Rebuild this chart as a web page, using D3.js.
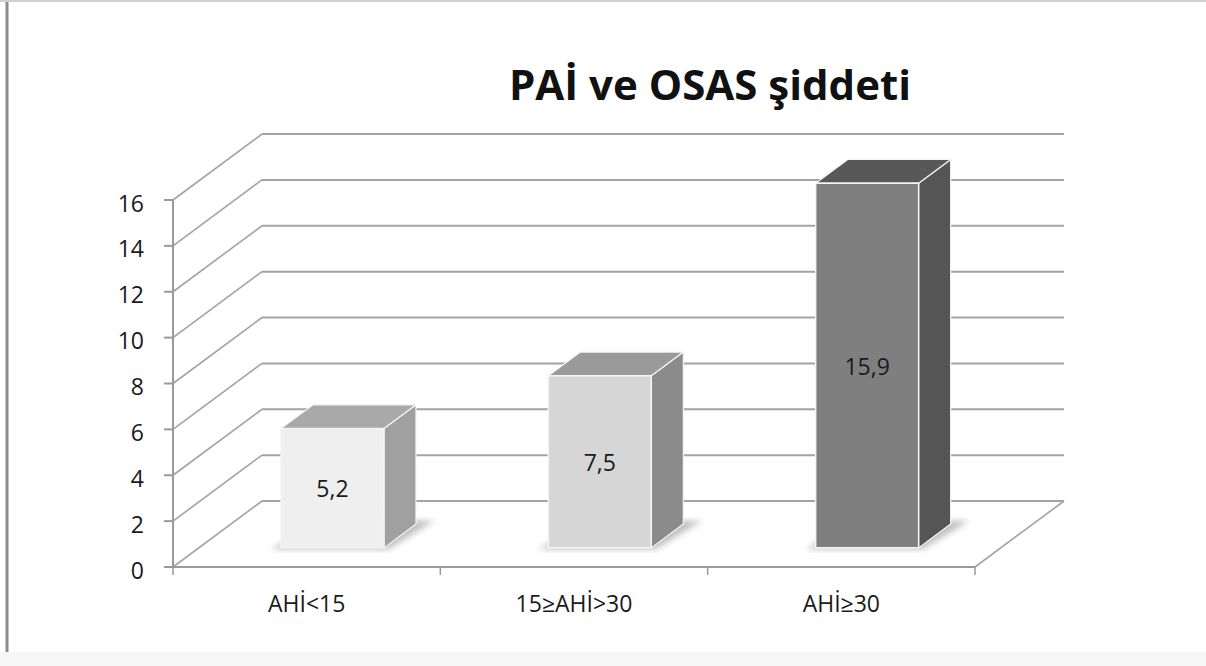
<!DOCTYPE html>
<html>
<head>
<meta charset="utf-8">
<script src="https://cdn.jsdelivr.net/npm/d3@7"></script>
<style>
  body { margin: 0; background: #fff; }
  svg { display: block; }
</style>
</head>
<body>
<div id="chart"></div>
<script>
// Data
const categories = ["AHİ<15", "15≥AHİ>30", "AHİ≥30"];
const values = [5.2, 7.5, 15.9];
const valueLabels = ["5,2", "7,5", "15,9"];
const yTicks = [0, 2, 4, 6, 8, 10, 12, 14, 16];
const titleText = "PAİ ve OSAS şiddeti";

const width = 1206, height = 666;
const fontFam = "'Open Sans', 'Noto Sans', sans-serif";

// front plane geometry + depth offset of the 3D box
const DX = 89, DY = -66;
const barZ0 = 0.29, barZ1 = 0.65; // bar depth position inside the floor

const x = d3.scaleBand().domain(categories).range([173, 975]).padding(0);
const y = d3.scaleLinear().domain([0, 16]).range([567, 200]);

const proj = (px, v, z) => [px + z * DX, y(v) + z * DY];

// colors per bar: front, top, side
const faceColors = [
  { front: "#efefef", top: "#a9a9a9", side: "#a0a0a0" },
  { front: "#d6d6d6", top: "#9a9a9a", side: "#8b8b8b" },
  { front: "#7f7f7f", top: "#585858", side: "#555555" },
];

const svg = d3.select("#chart").append("svg")
  .attr("width", width)
  .attr("height", height);

const defs = svg.append("defs");
defs.append("filter").attr("id", "blur")
  .append("feGaussianBlur").attr("stdDeviation", 3);

svg.append("rect").attr("width", width).attr("height", height).attr("fill", "#fff");

// frame
svg.append("line").attr("x1", 7).attr("x2", 7).attr("y1", 0).attr("y2", height)
  .attr("stroke", "#8c8c8c").attr("stroke-width", 3);
svg.append("line").attr("x1", 0).attr("x2", width).attr("y1", 1).attr("y2", 1)
  .attr("stroke", "#d0d0d0").attr("stroke-width", 2);
svg.append("rect").attr("x", 0).attr("y", 652).attr("width", width).attr("height", 14)
  .attr("fill", "#f6f6f6");

// title
svg.append("text")
  .attr("x", 710).attr("y", 100)
  .attr("text-anchor", "middle")
  .attr("font-family", fontFam)
  .attr("font-weight", "bold")
  .attr("font-size", 42)
  .attr("fill", "#111")
  .text(titleText);

const gridColor = "#a3a3a3";
const [xMin, xMax] = x.range();
const line = d3.line();

// back wall gridlines
svg.append("g").selectAll("line").data(yTicks).join("line")
  .attr("x1", d => proj(xMin, d, 1)[0])
  .attr("y1", d => proj(xMin, d, 1)[1])
  .attr("x2", d => proj(xMax, d, 1)[0])
  .attr("y2", d => proj(xMax, d, 1)[1])
  .attr("stroke", gridColor).attr("stroke-width", 2);

// left wall gridlines
svg.append("g").selectAll("line").data(yTicks).join("line")
  .attr("x1", d => proj(xMin, d, 0)[0])
  .attr("y1", d => proj(xMin, d, 0)[1])
  .attr("x2", d => proj(xMin, d, 1)[0])
  .attr("y2", d => proj(xMin, d, 1)[1])
  .attr("stroke", gridColor).attr("stroke-width", 1.6);

// floor right edge
svg.append("path")
  .attr("d", line([proj(xMax, 0, 0), proj(xMax, 0, 1)]))
  .attr("stroke", gridColor).attr("stroke-width", 1.6).attr("fill", "none");

// y axis
const axisColor = "#9a9a9a";
svg.append("line")
  .attr("x1", xMin).attr("x2", xMin)
  .attr("y1", y(16)).attr("y2", y(0))
  .attr("stroke", axisColor).attr("stroke-width", 2);
svg.append("g").selectAll("line").data(yTicks).join("line")
  .attr("x1", xMin - 9).attr("x2", xMin)
  .attr("y1", d => y(d)).attr("y2", d => y(d))
  .attr("stroke", axisColor).attr("stroke-width", 2);
svg.append("g").selectAll("text").data(yTicks).join("text")
  .attr("x", 144).attr("y", d => y(d))
  .attr("dy", "0.5em")
  .attr("text-anchor", "end")
  .attr("font-family", fontFam)
  .attr("font-size", 23)
  .attr("fill", "#1a1a1a")
  .text(d => d);

// x axis
svg.append("line")
  .attr("x1", xMin - 9).attr("x2", xMax)
  .attr("y1", y(0)).attr("y2", y(0))
  .attr("stroke", axisColor).attr("stroke-width", 2);
const xTickPos = categories.map(c => x(c)).concat([xMax]);
svg.append("g").selectAll("line").data(xTickPos).join("line")
  .attr("x1", d => d).attr("x2", d => d)
  .attr("y1", y(0)).attr("y2", y(0) + 8)
  .attr("stroke", axisColor).attr("stroke-width", 1.5);
svg.append("g").selectAll("text").data(categories).join("text")
  .attr("x", d => x(d) + x.bandwidth() / 2)
  .attr("y", 612)
  .attr("text-anchor", "middle")
  .attr("font-family", fontFam)
  .attr("font-size", 23)
  .attr("fill", "#1a1a1a")
  .text(d => d);

// bars
const barW = x.bandwidth() * 0.385;
const bars = svg.append("g").selectAll("g").data(categories).join("g");

bars.each(function (c, i) {
  const g = d3.select(this);
  const v = values[i];
  const cx = x(c) + x.bandwidth() / 2;
  const x0 = cx - barW / 2, x1 = cx + barW / 2;
  const col = faceColors[i];

  // soft shadow on the floor
  g.append("path")
    .attr("d", line([proj(x0 - 8, 0, barZ0 - 0.02), proj(x1 + 6, 0, barZ0 - 0.02),
      proj(x1 + 14, 0, barZ1 + 0.05), proj(x0 + 4, 0, barZ1 + 0.05)]) + "Z")
    .attr("fill", "#8a8a8a").attr("opacity", 0.55)
    .attr("filter", "url(#blur)");

  // side face
  g.append("path")
    .attr("d", line([proj(x1, 0, barZ0), proj(x1, 0, barZ1), proj(x1, v, barZ1), proj(x1, v, barZ0)]) + "Z")
    .attr("fill", col.side).attr("stroke", "#f4f4f4").attr("stroke-width", 1.2)
    .attr("stroke-linejoin", "round");
  // top face
  g.append("path")
    .attr("d", line([proj(x0, v, barZ0), proj(x1, v, barZ0), proj(x1, v, barZ1), proj(x0, v, barZ1)]) + "Z")
    .attr("fill", col.top).attr("stroke", "#f4f4f4").attr("stroke-width", 1.2)
    .attr("stroke-linejoin", "round");
  // front face
  g.append("path")
    .attr("d", line([proj(x0, 0, barZ0), proj(x1, 0, barZ0), proj(x1, v, barZ0), proj(x0, v, barZ0)]) + "Z")
    .attr("fill", col.front).attr("stroke", "#f4f4f4").attr("stroke-width", 1.5);

  // value label
  const mid = proj(cx, v / 2, barZ0);
  g.append("text")
    .attr("x", mid[0]).attr("y", mid[1])
    .attr("dy", "0.4em")
    .attr("text-anchor", "middle")
    .attr("font-family", fontFam)
    .attr("font-size", 23)
    .attr("fill", "#1a1a1a")
    .text(valueLabels[i]);
});
</script>
</body>
</html>
